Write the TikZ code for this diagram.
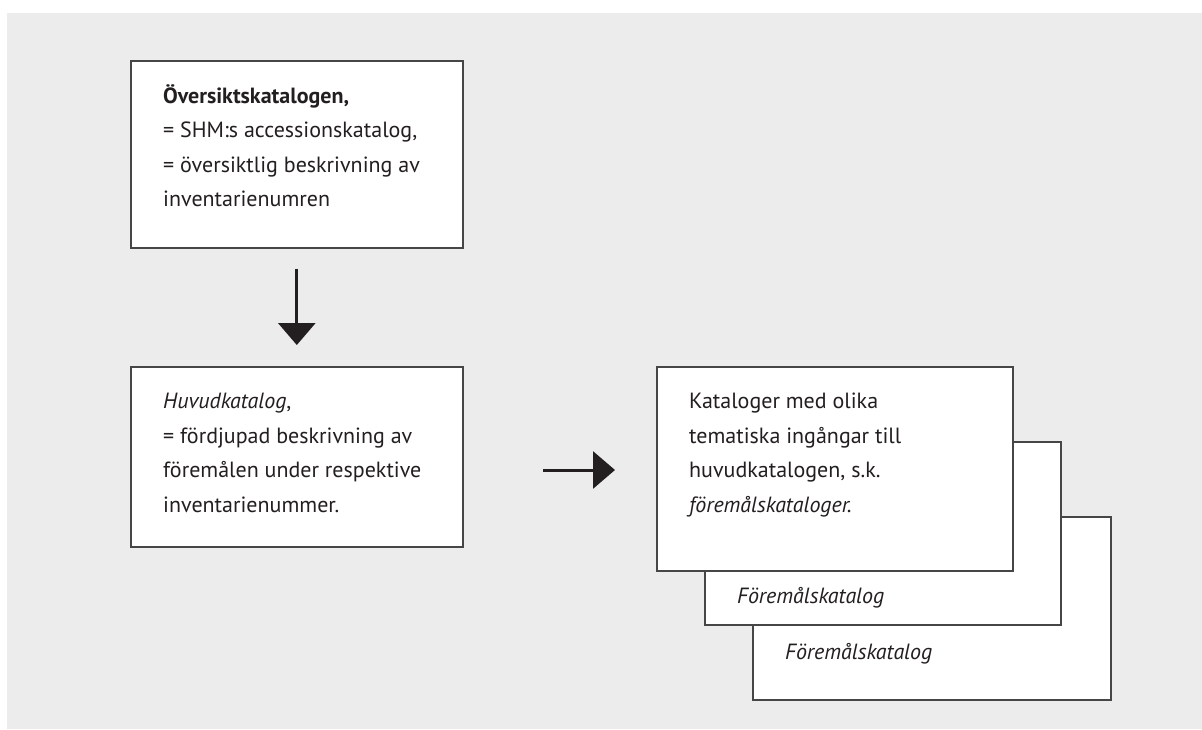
\documentclass[tikz,border=0pt]{standalone}
\usepackage{fontspec}
\setmainfont{PT Sans}
\usepackage{xcolor}
\usetikzlibrary{arrows.meta,positioning}
\definecolor{bggray}{RGB}{236,236,236}
\definecolor{boxline}{RGB}{70,70,70}
\definecolor{ink}{RGB}{35,31,32}

\begin{document}
\begin{tikzpicture}[
    x=1pt, y=-1pt,
    box/.style={draw=boxline, line width=1.6pt, fill=white, anchor=north west, inner sep=0pt},
    txt/.style={anchor=north west, align=left, inner sep=0pt, text=ink,
                font=\fontsize{22}{34.5}\selectfont},
    arr/.style={-{Triangle[length=22pt,width=37pt]}, line width=3pt, draw=ink}
]
    \useasboundingbox (0,0) rectangle (1202,729);
    \fill[bggray] (7,13) rectangle (1202,729);

    % Boxes
    \node[box, minimum width=332pt, minimum height=187pt] (oversikt) at (130,60) {};
    \node[box, minimum width=332pt, minimum height=180pt] (huvud) at (130,366) {};
    \node[box, minimum width=358pt, minimum height=183pt] (kat3) at (752,516) {};
    \node[box, minimum width=356pt, minimum height=183pt] (kat2) at (704,441) {};
    \node[box, minimum width=356pt, minimum height=204pt] (kat1) at (656,366) {};

    % Texts
    \node[txt] (oversikttxt) at ([shift={(33,24)}]oversikt.north west)
        {\textbf{Översiktskatalogen,}\\
         = SHM:s accessionskatalog,\\
         = översiktlig beskrivning av\\
         inventarienumren};
    \node[txt] (huvudtxt) at ([shift={(33,27)}]huvud.north west)
        {\textit{Huvudkatalog},\\
         = fördjupad beskrivning av\\
         föremålen under respektive\\
         inventarienummer.};
    \node[txt] (kat1txt) at ([shift={(33,27)}]kat1.north west)
        {Kataloger med olika\\
         tematiska ingångar till\\
         huvudkatalogen, s.k.\\
         \textit{föremålskataloger.}};
    \node[txt] (kat2txt) at ([shift={(33,146)}]kat2.north west) {\textit{Föremålskatalog}};
    \node[txt] (kat3txt) at ([shift={(33,127)}]kat3.north west) {\textit{Föremålskatalog}};

    % Arrows
    \coordinate (hogerstart) at (543,470);
    \coordinate (hogerslut) at (615,470);
    \draw[arr] ([yshift=-20pt]oversikt.south) -- ([yshift=21pt]huvud.north);
    \draw[arr] (hogerstart) -- (hogerslut);

\end{tikzpicture}
\end{document}
